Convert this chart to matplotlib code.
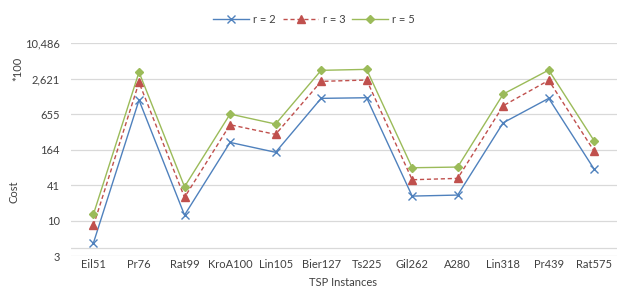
import matplotlib
matplotlib.use("Agg")
import matplotlib.pyplot as plt
from matplotlib.ticker import FixedLocator, FuncFormatter, NullLocator

plt.rcParams["font.family"] = ["Lato", "DejaVu Sans"]

instances = ["Eil51", "Pr76", "Rat99", "KroA100", "Lin105", "Bier127",
             "Ts225", "Gil262", "A280", "Lin318", "Pr439", "Rat575"]
cost_r2 = [4.3, 1140, 12.7, 218, 148, 1220, 1250, 26.7, 27.8, 470, 1220, 76]
cost_r3 = [8.5, 2280, 25.4, 435, 298, 2370, 2500, 50.6, 53.4, 914, 2470, 154]
cost_r5 = [13.2, 3410, 38.5, 660, 447, 3650, 3790, 80.9, 83.1, 1444, 3690, 230]
y_ticks = [2.56, 10.24, 40.96, 163.84, 655.36, 2621.44, 10485.76]

fig = plt.figure(figsize=(6.22, 2.89), dpi=100)
ax = fig.add_axes([0.1137, 0.114, 0.8783, 0.736])

x = range(len(instances))
ax.plot(x, cost_r2, color="#4F81BD", lw=1, marker="x", ms=5.5, mew=1,
        label="r = 2")
ax.plot(x, cost_r3, color="#C0504D", lw=1, ls=(0, (3, 2)), marker="^", ms=6,
        label="r = 3")
ax.plot(x, cost_r5, color="#9BBB59", lw=1, marker="D", ms=4,
        label="r = 5")

ax.set_yscale("log")
ax.set_ylim(2.56, 10485.76)
ax.set_xlim(-0.5, len(instances) - 0.5)
ax.yaxis.set_major_locator(FixedLocator(y_ticks))
ax.yaxis.set_minor_locator(NullLocator())
ax.yaxis.set_major_formatter(FuncFormatter(lambda v, p: f"{v:,.0f}"))
ax.set_xticks(list(x))
ax.set_xticklabels(instances)
ax.tick_params(length=0, labelsize=8, colors="#404040")
ax.tick_params(axis="x", pad=2)
ax.tick_params(axis="y", pad=8)
ax.grid(axis="y", color="#D9D9D9", lw=0.9)
ax.set_axisbelow(True)
ax.axhline(3.46, color="#D9D9D9", lw=0.9, zorder=0)
for s in ax.spines.values():
    s.set_visible(False)

fig.text(0.552, 0.022, "TSP Instances", ha="center", va="center",
         fontsize=8, color="#404040")
fig.text(0.022, 0.335, "Cost", rotation=90, ha="center", va="center",
         fontsize=8, color="#404040")
fig.text(0.028, 0.761, "*100", rotation=90, ha="center", va="center",
         fontsize=8, color="#404040")

fig.legend(loc="center", bbox_to_anchor=(0.505, 0.934), ncol=3, frameon=False,
           fontsize=8, handlelength=3.2, columnspacing=0.6, handletextpad=0.4,
           labelcolor="#404040")

fig.savefig("out.png", dpi=100)
